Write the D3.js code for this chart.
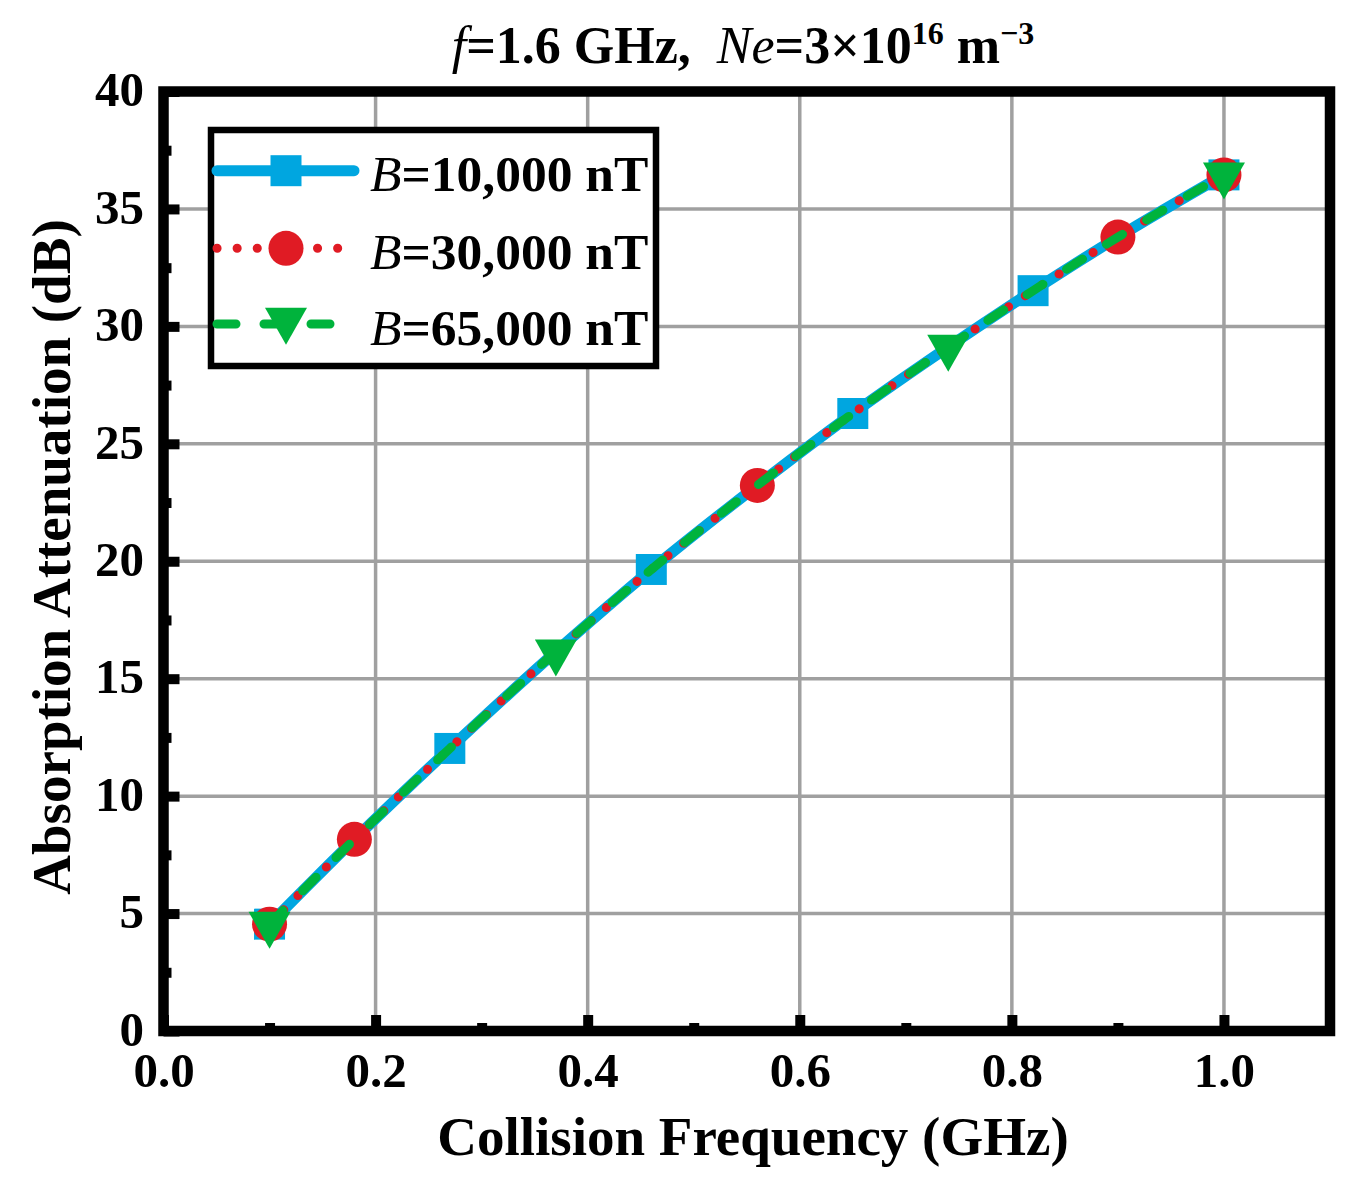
<!doctype html>
<html>
  <head>
    <meta charset="utf-8">
    <title>Absorption attenuation vs collision frequency</title>
    <script src="https://d3js.org/d3.v7.min.js"></script>
    <style type="text/css">
      body { margin: 0; background-color: #ffffff; }
      text { font-family: "Liberation Serif", "Times New Roman", serif; font-weight: bold; fill: #000; }
    </style>
  </head>
  <body>
    <script>
      // Data
      var collisionFreq = [0.1, 0.18, 0.27, 0.37, 0.46, 0.56, 0.65, 0.74, 0.82, 0.9, 1.0];
      var atten10000 = [4.55, 8.16, 12.03, 16.15, 19.65, 23.23, 26.29, 29.12, 31.52, 33.8, 36.45];
      var atten30000 = [4.55, 8.16, 12.03, 16.15, 19.65, 23.23, 26.29, 29.12, 31.52, 33.8, 36.45];
      var atten65000 = [4.55, 8.16, 12.03, 16.15, 19.65, 23.23, 26.29, 29.12, 31.52, 33.8, 36.45];
      // which points carry a marker for each series
      var marks10000 = [0, 2, 4, 6, 8, 10];
      var marks30000 = [0, 1, 5, 9, 10];
      var marks65000 = [0, 3, 7, 10];
      var seriesNames = ["10,000", "30,000", "65,000"];
      var xTicks = [0, 0.2, 0.4, 0.6, 0.8, 1.0];
      var xMinor = [0.1, 0.3, 0.5, 0.7, 0.9];
      var yTicks = [0, 5, 10, 15, 20, 25, 30, 35, 40];
      var yMinor = [2.5, 7.5, 12.5, 17.5, 22.5, 27.5, 32.5, 37.5];

      var w = 1350, h = 1192;
      var plotL = 163.5, plotR = 1330, plotT = 91.5, plotB = 1031;

      var svg = d3.select("body").append("svg")
        .attr("width", w)
        .attr("height", h);

      var x = d3.scaleLinear().domain([0, 1.1]).range([plotL, plotR]);
      var y = d3.scaleLinear().domain([0, 40]).range([plotB, plotT]);

      // grid
      var grid = svg.append("g");
      grid.selectAll("line.vg")
        .data(xTicks.filter(function(d){ return d > 0; }))
        .enter().append("line")
        .attr("x1", function(d){ return x(d); })
        .attr("x2", function(d){ return x(d); })
        .attr("y1", plotT).attr("y2", plotB)
        .style("stroke", "#a0a0a0").style("stroke-width", 3.5);
      grid.selectAll("line.hg")
        .data(yTicks.filter(function(d){ return d > 0 && d < 40; }))
        .enter().append("line")
        .attr("y1", function(d){ return y(d); })
        .attr("y2", function(d){ return y(d); })
        .attr("x1", plotL).attr("x2", plotR)
        .style("stroke", "#a0a0a0").style("stroke-width", 3.5);

      // series
      var series = [
        { vals: atten10000, marks: marks10000, color: "#00a6e0", width: 11, dash: null, cap: "round", shape: "square" },
        { vals: atten30000, marks: marks30000, color: "#e01b24", width: 9, dash: "0.1 20", cap: "round", shape: "circle" },
        { vals: atten65000, marks: marks65000, color: "#00b33c", width: 9, dash: "19 28", cap: "round", shape: "triangle" }
      ];

      function markerPath(shape) {
        if (shape === "square") return "M-15.5,-15.5H15.5V15.5H-15.5Z";
        if (shape === "triangle") return "M-21,-12.3L21,-12.3L0,24.7Z";
        return d3.symbol().type(d3.symbolCircle).size(Math.PI * 17.5 * 17.5)();
      }

      var line = d3.line()
        .x(function(d, i){ return x(collisionFreq[i]); })
        .y(function(d){ return y(d); })
        .curve(d3.curveMonotoneX);

      var layerData = svg.append("g");
      series.forEach(function(s) {
        var g = layerData.append("g");
        g.append("path")
          .attr("d", line(s.vals))
          .style("fill", "none")
          .style("stroke", s.color)
          .style("stroke-width", s.width)
          .style("stroke-linecap", s.cap)
          .style("stroke-dasharray", s.dash);
        g.selectAll("path.m")
          .data(s.marks)
          .enter().append("path")
          .attr("d", markerPath(s.shape))
          .attr("transform", function(i){ return "translate(" + x(collisionFreq[i]) + "," + y(s.vals[i]) + ")"; })
          .style("fill", s.color);
      });

      // axes: inward ticks, thick
      var yAxis = svg.append("g").attr("transform", "translate(" + plotL + ",0)")
        .call(d3.axisLeft(y).tickValues(yTicks).tickSize(-16).tickPadding(19.5).tickFormat(d3.format("d")));
      var yAxisMinor = svg.append("g").attr("transform", "translate(" + plotL + ",0)")
        .call(d3.axisLeft(y).tickValues(yMinor).tickSize(-8).tickFormat(""));
      var xAxis = svg.append("g").attr("transform", "translate(0," + plotB + ")")
        .call(d3.axisBottom(x).tickValues(xTicks).tickSize(-16).tickPadding(21).tickFormat(d3.format(".1f")));
      var xAxisMinor = svg.append("g").attr("transform", "translate(0," + plotB + ")")
        .call(d3.axisBottom(x).tickValues(xMinor).tickSize(-8).tickFormat(""));

      [yAxis, yAxisMinor, xAxis, xAxisMinor].forEach(function(a) {
        a.select(".domain").remove();
        a.selectAll(".tick line").style("stroke", "#000").style("stroke-width", 10);
        a.selectAll(".tick text")
          .style("font-family", "'Liberation Serif', serif")
          .style("font-weight", "bold")
          .style("font-size", "49px");
      });
      yAxis.selectAll(".tick text").attr("dy", "0.29em");

      // frame
      svg.append("rect")
        .attr("x", plotL).attr("y", plotT)
        .attr("width", plotR - plotL).attr("height", plotB - plotT)
        .style("fill", "none").style("stroke", "#000").style("stroke-width", 10.5);

      // legend
      var legend = svg.append("g");
      legend.append("rect")
        .attr("x", 211).attr("y", 130)
        .attr("width", 445).attr("height", 236)
        .style("fill", "#fff").style("stroke", "#000").style("stroke-width", 6.5);
      var rowY = [170.7, 248.3, 324];
      series.forEach(function(s, k) {
        var row = legend.append("g");
        row.append("line")
          .attr("x1", 217).attr("x2", 354)
          .attr("y1", rowY[k]).attr("y2", rowY[k])
          .style("stroke", s.color)
          .style("stroke-width", s.width)
          .style("stroke-linecap", s.cap)
          .style("stroke-dasharray", s.dash);
        row.append("path")
          .attr("d", markerPath(s.shape))
          .attr("transform", "translate(286," + (s.shape === "triangle" ? rowY[k] - 4 : rowY[k]) + ")")
          .style("fill", s.color);
        var t = row.append("text")
          .attr("x", 370).attr("y", rowY[k] + 20.5)
          .style("font-size", "51.5px");
        t.append("tspan").style("font-style", "italic").style("font-weight", "normal").text("B");
        t.append("tspan").text("=" + seriesNames[k] + " nT");
      });

      // axis titles
      svg.append("text")
        .attr("x", 753).attr("y", 1155)
        .attr("text-anchor", "middle")
        .style("font-size", "55px")
        .text("Collision Frequency (GHz)");
      svg.append("text")
        .attr("transform", "translate(70,557) rotate(-90)")
        .attr("text-anchor", "middle")
        .style("font-size", "55px")
        .text("Absorption Attenuation (dB)");

      // title
      var title = svg.append("text")
        .attr("x", 743).attr("y", 63)
        .attr("text-anchor", "middle")
        .style("font-size", "52px");
      title.append("tspan").style("font-style", "italic").style("font-weight", "normal").text("f");
      title.append("tspan").text("=1.6 GHz,\u00a0\u00a0");
      title.append("tspan").style("font-style", "italic").style("font-weight", "normal").text("Ne");
      title.append("tspan").text("=3\u00d710");
      title.append("tspan").attr("dy", -19).style("font-size", "32px").text("16");
      title.append("tspan").attr("dy", 19).text(" m");
      title.append("tspan").attr("dy", -19).style("font-size", "32px").text("\u2212" + "3");
    </script>
  </body>
</html>
